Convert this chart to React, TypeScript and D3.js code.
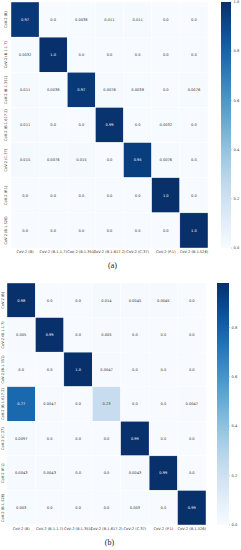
import React from 'react';
import {scaleBand, scaleLinear, scaleSequential, interpolateBlues, range} from 'd3';

const width = 241;
const height = 550;

const classes = [
  'CoV-2 (B)',
  'CoV-2 (B.1.1.7)',
  'CoV-2 (B.1.351)',
  'CoV-2 (B.1.617.2)',
  'CoV-2 (C.37)',
  'CoV-2 (P.1)',
  'CoV-2 (B.1.526)',
];

// labels as printed in the cells
const matrixA = [
  ['0.97', '0.0', '0.0038', '0.011', '0.011', '0.0', '0.0'],
  ['0.0032', '1.0', '0.0', '0.0', '0.0', '0.0', '0.0'],
  ['0.011', '0.0038', '0.97', '0.0076', '0.0038', '0.0', '0.0076'],
  ['0.011', '0.0', '0.0', '0.99', '0.0', '0.0032', '0.0'],
  ['0.015', '0.0076', '0.015', '0.0', '0.95', '0.0076', '0.0'],
  ['0.0', '0.0', '0.0', '0.0', '0.0', '1.0', '0.0'],
  ['0.0', '0.0', '0.0', '0.0', '0.0', '0.0', '1.0'],
];

const matrixB = [
  ['0.98', '0.0', '0.0', '0.014', '0.0045', '0.0045', '0.0'],
  ['0.005', '0.99', '0.0', '0.005', '0.0', '0.0', '0.0'],
  ['0.0', '0.0', '1.0', '0.0047', '0.0', '0.0', '0.0'],
  ['0.77', '0.0047', '0.0', '0.23', '0.0', '0.0', '0.0047'],
  ['0.0097', '0.0', '0.0', '0.0', '0.99', '0.0', '0.0'],
  ['0.0043', '0.0043', '0.0', '0.0', '0.0043', '0.99', '0.0'],
  ['0.003', '0.0', '0.0', '0.0', '0.003', '0.0', '0.99'],
];

const colorbarTicks = [0, 0.2, 0.4, 0.6, 0.8, 1.0];

const font = 'DejaVu Sans, sans-serif';

type PanelProps = {
  id: string;
  data: string[][];
  vmax: number;
  box: {x0: number; x1: number; y0: number; y1: number};
  bar: {x0: number; x1: number};
  yLabelX: number;
  caption: string;
};

function Panel({id, data, vmax, box, bar, yLabelX, caption}: PanelProps) {
  const xScale = scaleBand<string>().domain(classes).range([box.x0, box.x1]);
  const yScale = scaleBand<string>().domain(classes).range([box.y0, box.y1]);
  const color = scaleSequential(interpolateBlues).domain([0, vmax]);
  const barScale = scaleLinear().domain([0, vmax]).range([box.y1, box.y0]);
  const stops = range(0, 1.0001, 0.05);
  const cx = (box.x0 + box.x1) / 2 + 3;

  return (
    <g>
      <defs>
        <linearGradient id={`grad-${id}`} x1="0" y1="1" x2="0" y2="0">
          {stops.map((t) => (
            <stop key={t} offset={t} stopColor={color(t * vmax)} />
          ))}
        </linearGradient>
      </defs>
      {data.map((row, i) => row.map((v, j) => {
        const val = +v;
        return (
          <g key={`${i}-${j}`}>
            <rect
              x={xScale(classes[j])}
              y={yScale(classes[i])}
              width={xScale.bandwidth()}
              height={yScale.bandwidth()}
              fill={color(val)}
              stroke="#ffffff"
              strokeWidth={0.4}
            />
            <text
              x={(xScale(classes[j]) ?? 0) + xScale.bandwidth() / 2}
              y={(yScale(classes[i]) ?? 0) + yScale.bandwidth() / 2}
              dy="0.35em"
              textAnchor="middle"
              fontSize={3.6}
              fontFamily={font}
              fill={val > vmax * 0.5 ? '#ffffff' : '#333333'}
            >{v}</text>
          </g>
        );
      }))}
      {classes.map((c) => (
        <text
          key={`x-${c}`}
          x={(xScale(c) ?? 0) + xScale.bandwidth() / 2}
          y={box.y1 + 4.5}
          textAnchor="middle"
          fontSize={3.6}
          fontFamily={font}
          fill="#333333"
        >{c}</text>
      ))}
      {classes.map((c) => {
        const cy = (yScale(c) ?? 0) + yScale.bandwidth() / 2;
        return (
          <text
            key={`y-${c}`}
            transform={`translate(${yLabelX}, ${cy}) rotate(-90)`}
            textAnchor="middle"
            dy="0.35em"
            fontSize={3.6}
            fontFamily={font}
            fill="#333333"
          >{c}</text>
        );
      })}
      <rect
        x={bar.x0}
        y={box.y0}
        width={bar.x1 - bar.x0}
        height={box.y1 - box.y0}
        fill={`url(#grad-${id})`}
      />
      {colorbarTicks.filter((t) => t <= vmax + 1e-9).map((t) => (
        <g key={`t-${t}`}>
          <line x1={bar.x1} x2={bar.x1 + 1} y1={barScale(t)} y2={barScale(t)} stroke="#555555" strokeWidth={0.3} />
          <text
            x={bar.x1 + 2.5}
            y={barScale(t)}
            dy="0.35em"
            fontSize={3.6}
            fontFamily={font}
            fill="#333333"
          >{t.toFixed(1)}</text>
        </g>
      ))}
      <text
        x={cx}
        y={box.y1 + 20}
        textAnchor="middle"
        fontSize={8}
        fontFamily="Liberation Serif, serif"
        fill="#222222"
      >{caption}</text>
    </g>
  );
}

export default function App() {
  return (
    <svg
      width={width}
      height={height}
      style={{position: 'absolute', left: 0, top: 0, backgroundColor: '#ffffff'}}
    >
      <Panel
        id="a"
        data={matrixA}
        vmax={1.0}
        box={{x0: 11, x1: 208, y0: 2, y1: 248}}
        bar={{x0: 221, x1: 231}}
        yLabelX={6}
        caption="(a)"
      />
      <Panel
        id="b"
        data={matrixB}
        vmax={0.98}
        box={{x0: 7, x1: 206, y0: 283, y1: 525}}
        bar={{x0: 217, x1: 229}}
        yLabelX={3}
        caption="(b)"
      />
    </svg>
  );
}
